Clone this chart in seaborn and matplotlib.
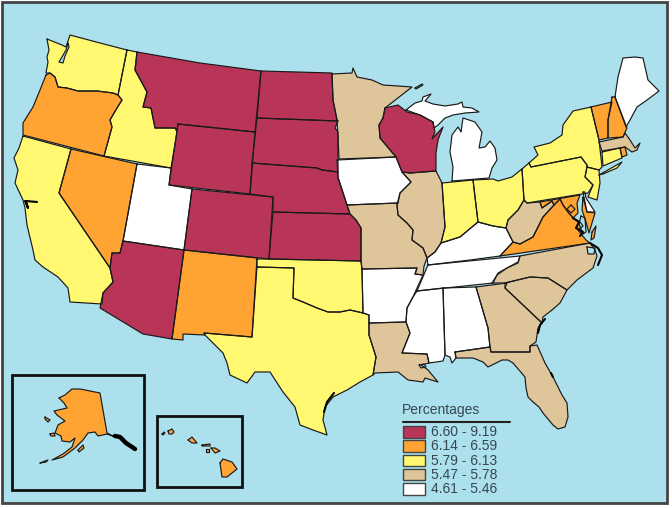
import matplotlib
matplotlib.use("Agg")
import matplotlib.pyplot as plt
from matplotlib.patches import Rectangle
import seaborn as sns
import pandas as pd

# state outlines (pixels of the 672x508 image)
WA = [(47,39),(52,41),(62,45),(66,47),(70,35),(100,43),(127,50),(118,95),(113,93),(97,91),(78,91),(67,88),(58,87),(55,77),(50,73),(46,73),(48,62),(47,57),(49,50)]
OR = [(46,75),(50,73),(55,77),(58,87),(67,88),(78,91),(97,91),(113,93),(118,95),(122,100),(117,108),(110,120),(112,127),(104,156),(23,135),(23,123),(28,115),(33,107),(40,90)]
ID = [(127,50),(137,52),(135,70),(147,92),(143,107),(151,108),(155,128),(175,128),(177,132),(171,168),(104,156),(112,127),(110,120),(117,108),(122,100),(118,95)]
MT = [(137,52),(200,63),(261,71),(255,132),(178,124),(177,130),(175,128),(155,128),(151,108),(143,107),(147,92),(135,70)]
ND = [(261,71),(332,73),(333,100),(337,120),(338,121),(257,118)]
SD = [(257,118),(338,121),(335,128),(338,132),(338,172),(322,170),(317,168),(252,163)]
WY = [(178,124),(255,132),(250,194),(169,185)]
NE = [(252,163),(317,168),(322,170),(338,172),(338,178),(347,205),(350,214),(273,212),(273,197),(250,194)]
KS = [(273,212),(350,214),(356,220),(361,228),(361,261),(269,259)]
CO = [(192,189),(273,197),(269,259),(184,250)]
UT = [(137,164),(171,168),(169,185),(192,189),(184,250),(123,241)]
NV = [(71,149),(137,164),(123,241),(120,253),(112,253),(110,268),(59,193)]
CA = [(23,136),(71,149),(59,193),(110,268),(113,282),(103,293),(102,304),(70,302),(68,288),(58,277),(43,267),(35,260),(33,250),(27,225),(25,208),(23,200),(15,183),(18,170),(14,158),(19,148)]
AZ = [(123,241),(184,250),(172,339),(143,334),(100,308),(103,293),(113,282),(110,268),(112,253),(120,253)]
NM = [(184,250),(257,258),(252,337),(204,333),(205,335),(183,334),(183,340),(172,339)]
OK = [(257,259),(269,259),(361,261),(362,270),(363,313),(350,310),(340,312),(328,312),(317,308),(303,302),(293,298),(294,268),(257,267)]
TX = [(257,267),(294,268),(293,298),(303,302),(317,308),(328,312),(340,312),(350,310),(363,313),(369,315),(369,335),(376,357),(373,375),(360,382),(347,390),(333,397),(325,407),(323,420),(327,435),(313,430),(300,425),(295,407),(283,392),(270,372),(255,372),(247,383),(230,375),(227,363),(223,353),(205,335),(204,333),(252,337)]
MN = [(332,74),(352,73),(353,68),(357,77),(372,80),(383,85),(398,86),(412,87),(385,108),(383,118),(379,125),(380,138),(396,157),(339,159),(338,137),(337,120),(333,100)]
IA = [(337,160),(396,157),(402,172),(411,182),(400,193),(398,203),(347,205),(338,177)]
WI = [(385,108),(398,105),(407,112),(420,115),(433,122),(435,132),(432,139),(443,127),(438,140),(436,153),(436,171),(410,173),(402,172),(396,157),(380,138),(379,125),(383,118)]
IL = [(410,173),(436,171),(442,183),(445,227),(441,243),(435,252),(427,258),(423,248),(412,240),(413,230),(407,223),(398,215),(397,205),(400,193),(411,182),(402,172)]
MO = [(347,205),(398,203),(397,205),(398,215),(407,223),(413,230),(412,240),(423,248),(427,258),(424,266),(423,275),(415,274),(417,268),(362,269),(361,261),(361,228),(356,220),(350,214)]
AR = [(362,269),(417,268),(415,274),(423,275),(417,288),(413,297),(407,308),(406,322),(369,323),(369,315),(363,313)]
LA = [(369,323),(406,322),(410,333),(402,353),(427,354),(429,363),(421,365),(428,370),(438,382),(425,378),(423,382),(408,380),(398,372),(375,373),(373,375),(376,357),(369,335)]
MS = [(417,291),(443,288),(445,355),(443,361),(429,363),(427,354),(402,353),(410,333),(406,322),(407,308),(413,297)]
AL = [(443,288),(476,287),(488,328),(490,347),(455,352),(456,358),(452,363),(450,357),(445,355)]
GA = [(476,287),(507,283),(505,288),(523,305),(542,323),(538,328),(536,342),(530,346),(530,352),(491,352),(490,347),(488,328)]
SC = [(505,283),(530,277),(548,278),(567,290),(560,303),(552,310),(543,317),(542,323),(523,305),(505,288)]
NC = [(492,283),(497,275),(507,268),(518,262),(520,256),(590,243),(595,250),(597,256),(593,268),(577,280),(567,290),(548,278),(530,277),(505,283)]
FL = [(455,352),(490,347),(491,352),(530,352),(530,346),(537,345),(545,363),(553,377),(562,395),(567,403),(568,417),(565,427),(558,429),(553,425),(543,413),(539,407),(533,402),(528,397),(526,388),(525,377),(513,363),(508,360),(502,360),(488,367),(483,362),(473,358),(460,358),(456,358)]
TN = [(417,291),(493,283),(498,273),(507,268),(518,263),(520,256),(428,265)]
KY = [(428,265),(427,258),(435,252),(441,243),(460,237),(478,222),(493,226),(506,228),(507,230),(513,242),(500,256),(470,260)]
IN = [(442,183),(473,180),(478,222),(460,237),(441,243),(445,227)]
OH = [(473,180),(493,179),(498,181),(512,177),(522,169),(524,200),(518,210),(508,220),(506,228),(493,226),(478,222)]
PA = [(522,169),(529,163),(531,167),(581,157),(587,165),(587,167),(585,177),(593,185),(588,193),(527,203),(524,200)]
NY = [(529,163),(538,155),(534,147),(550,143),(562,135),(563,125),(573,111),(591,107),(599,140),(602,167),(599,170),(587,167),(587,165),(581,157),(531,167)]
LI = [(599,175),(622,162),(617,168),(603,174)]
NJ = [(587,167),(599,170),(600,183),(597,200),(588,197),(593,185),(585,177)]
CT = [(602,152),(620,148),(622,158),(603,166)]
RI = [(620,148),(625,147),(627,155),(622,157)]
MA = [(599,142),(623,137),(625,133),(630,140),(635,148),(640,143),(637,150),(632,152),(625,147),(602,151)]
VT = [(591,107),(612,102),(608,120),(608,138),(599,140)]
NH = [(612,97),(615,97),(627,128),(623,137),(608,138),(608,120)]
ME = [(615,97),(618,77),(623,58),(635,57),(643,58),(648,80),(659,91),(647,100),(637,107),(630,120),(626,127)]
MI_UP = [(406,110),(415,103),(422,101),(423,97),(431,94),(425,101),(433,104),(445,106),(458,104),(462,102),(463,107),(472,108),(479,112),(465,113),(453,115),(445,118),(438,125),(434,128),(433,122),(420,115)]
MI_LOW = [(452,181),(453,167),(450,152),(452,135),(458,127),(461,132),(463,118),(475,122),(482,132),(479,148),(485,147),(490,141),(495,148),(497,160),(492,168),(489,178)]
ROYALE = [(415,88),(422,84),(423,85),(416,89)]
WV = [(524,200),(527,203),(540,202),(542,208),(552,201),(554,205),(543,217),(538,227),(533,237),(520,244),(513,242),(507,230),(506,228),(508,220),(518,210)]
VA = [(500,256),(513,242),(520,244),(533,237),(538,227),(543,217),(554,205),(560,199),(563,205),(568,212),(573,218),(580,222),(583,226),(578,230),(586,240),(590,243)]
VA_SHORE = [(592,232),(596,226),(594,238),(591,240)]
MD = [(540,202),(580,195),(577,203),(578,213),(573,218),(568,212),(563,205),(560,199),(554,205),(552,201),(542,208)]
MD_SHORE = [(583,197),(587,212),(595,213),(589,233),(586,222),(582,210)]
DE = [(583,192),(585,192),(586,198),(595,212),(587,212)]
DC = [(571,205),(575,209),(571,213),(567,209)]

AK = [(59,398),(65,395),(72,389),(80,389),(100,393),(107,433),(115,437),(107,434),(98,436),(95,432),(88,433),(83,440),(75,448),(63,457),(52,460),(63,454),(72,447),(75,438),(70,442),(62,441),(61,436),(55,433),(58,425),(65,421),(57,415),(54,411),(67,408),(64,403)]
AK_KODIAK = [(78,450),(83,445),(84,448),(79,452)]
AK_NUNIVAK = [(50,434),(54,433),(55,436),(51,436)]
AK_STLAWRENCE = [(45,417),(50,420),(48,422),(45,419)]
AK_ALEUT_A = [(40,463),(45,461),(48,460),(46,462)]
HI_BIG = [(220,463),(223,459),(232,462),(237,469),(227,477),(222,477)]
HI_MAUI = [(211,448),(215,448),(220,451),(215,453)]
HI_OAHU = [(188,440),(192,437),(197,443),(192,443)]
HI_KAUAI = [(168,431),(172,429),(174,432),(172,434),(169,434)]
HI_NIIHAU = [(162,434),(164,432),(165,433),(163,435)]
HI_MOLOKAI = [(202,445),(210,444),(210,446),(202,446)]
HI_LANAI = [(206,449),(209,449),(209,452),(206,452)]

# water cut into the land
PUGET = [(68,43),(69,47),(65,56),(63,63),(59,62),(62,57),(66,50)]
LAKE_PONT = [(419,365),(424,364),(426,367),(421,368)]
ALBEMARLE = [(587,247),(595,248),(594,254),(588,254)]
BAY_LOWER = [(581,216),(585,218),(586,232),(583,234),(579,224)]

# black bits of coast: bays, island clusters
SF_BAY = [(25,201),(28,208),(26,201),(37,202)]
NC_BANKS = [(590,243),(598,248),(602,255),(598,265)]
FL_COAST = [(551,373),(553,377)]
TX_COAST = [(334,393),(327,402),(324,412)]
GA_COAST = [(545,319),(540,325),(538,333)]
CHES = [(573,218),(579,222),(576,228),(583,232),(580,236)]
# the island cluster of the Alaska panhandle reads as a solid black band
AK_PANHANDLE = [(115,436),(120,437),(126,443),(132,447),(135,449)]

# classes, top of the legend first
CLASS_LABELS = ["6.60 - 9.19", "6.14 - 6.59", "5.79 - 6.13", "5.47 - 5.78", "4.61 - 5.46"]
CLASS_COLORS = ["#B83558", "#FFA333", "#FFF870", "#DFC59A", "#FFFFFF"]
WATER = "#ABE0EC"
CLASS_0 = [MT, ND, SD, WY, NE, KS, CO, AZ, WI, DC]
CLASS_1 = [OR, NV, NM, VT, NH, RI, VA, VA_SHORE, MD, MD_SHORE, AK, AK_KODIAK, AK_NUNIVAK, AK_STLAWRENCE, AK_ALEUT_A,
           HI_BIG, HI_MAUI, HI_OAHU, HI_KAUAI, HI_NIIHAU, HI_MOLOKAI, HI_LANAI]
CLASS_2 = [WA, ID, CA, OK, TX, IN, OH, PA, NY, LI, NJ, CT]
CLASS_3 = [MN, IL, MO, LA, GA, SC, NC, FL, WV, MA]
CLASS_4 = [UT, IA, AR, MS, AL, TN, KY, MI_UP, MI_LOW, ME, DE]
CLASSES = [CLASS_0, CLASS_1, CLASS_2, CLASS_3, CLASS_4]
CUTS = [PUGET, LAKE_PONT, ALBEMARLE, BAY_LOWER, ROYALE]
THICK = [SF_BAY, NC_BANKS, FL_COAST, TX_COAST, GA_COAST, CHES]

sns.set_theme(style="white")
plt.rcParams['font.family'] = ['Liberation Sans', 'DejaVu Sans']
palette = sns.color_palette(CLASS_COLORS)

fig = plt.figure(figsize=(6.72, 5.08), dpi=100, facecolor="white")
ax = fig.add_axes([0, 0, 1, 1])
ax.add_patch(Rectangle((2, 2), 665, 501, fc=WATER, ec="#444444", lw=2))

# fills first, outlines on top through seaborn
rows = []
n = 0
for cls, shapes in enumerate(CLASSES):
    for shape in shapes:
        ax.fill([p[0] for p in shape], [p[1] for p in shape], color=palette[cls], lw=0, zorder=2)
        for x, y in list(shape) + [shape[0]]:
            rows.append({"x": x, "y": y, "shape": n})
        n += 1
for shape in CUTS:
    ax.fill([p[0] for p in shape], [p[1] for p in shape], color=WATER, lw=0, zorder=2.5)
    for x, y in list(shape) + [shape[0]]:
        rows.append({"x": x, "y": y, "shape": n})
    n += 1
outlines = pd.DataFrame(rows)
sns.lineplot(data=outlines, x="x", y="y", units="shape", estimator=None, sort=False,
             color="#1a1a1a", lw=0.85, ax=ax, zorder=3, legend=False)

thick_rows = []
for i, shape in enumerate(THICK):
    for x, y in shape:
        thick_rows.append({"x": x, "y": y, "shape": i})
sns.lineplot(data=pd.DataFrame(thick_rows), x="x", y="y", units="shape", estimator=None, sort=False,
             color="black", lw=1.5, ax=ax, zorder=4, legend=False)
panhandle = pd.DataFrame(AK_PANHANDLE, columns=["x", "y"])
sns.lineplot(data=panhandle, x="x", y="y", estimator=None, sort=False, color="black", lw=3.2, ax=ax, zorder=4, legend=False)
ax.set_xlim(0, 672)
ax.set_ylim(508, 0)
ax.axis("off")

# inset frames
ax.add_patch(Rectangle((12, 375), 132, 115, fc="none", ec="#111111", lw=2, zorder=5))
ax.add_patch(Rectangle((157, 416), 85, 71, fc="none", ec="#111111", lw=2, zorder=5))

# legend
ax.text(402, 414, "Percentages", fontsize=10, color="#37474F", va="baseline", zorder=6)
ax.plot([403, 510], [422, 422], color="#222222", lw=1.5, zorder=6)
for i, label in enumerate(CLASS_LABELS):
    top = 426 + i * 14.3
    ax.add_patch(Rectangle((403, top), 22, 11.5, fc=palette[i], ec="#444444", lw=1, zorder=6))
    ax.text(431, top + 6, label, fontsize=10, color="#37474F", va="center", zorder=6)

fig.savefig("out.png", dpi=100)
